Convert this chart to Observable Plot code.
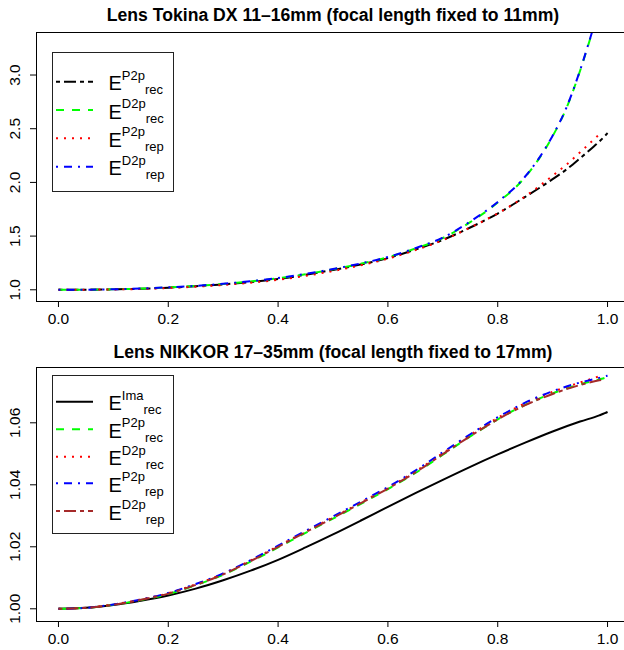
<!DOCTYPE html>
<html><head><meta charset="utf-8">
<script src="https://cdn.jsdelivr.net/npm/d3@7"></script>
<script src="https://cdn.jsdelivr.net/npm/@observablehq/plot@0.6"></script>
<style>
html,body{margin:0;padding:0;background:#fff;overflow:hidden;}
#wrap{width:624px;height:650px;overflow:hidden;position:relative;}
#wrap svg{display:block;max-width:none;}
</style></head><body><div id="wrap"></div>
<script>
const FONT = "'Liberation Sans', Arial, Helvetica, sans-serif";

// ---------- Panel 1: Tokina DX 11-16mm ----------
const title1 = "Lens Tokina DX 11–16mm (focal length fixed to 11mm)";
const x1 = [0,0.05,0.1,0.15,0.2,0.25,0.3,0.35,0.4,0.45,0.5,0.55,0.6,0.65,0.7,0.75,0.8,0.85,0.9,0.925,0.95,0.975,0.99,1.0];
const p2pRec1 = [1.000,1.001,1.004,1.010,1.020,1.033,1.050,1.072,1.100,1.140,1.185,1.235,1.295,1.375,1.465,1.580,1.710,1.865,2.030,2.120,2.225,2.335,2.405,2.460];
const d2pRec1 = [1.000,1.001,1.005,1.011,1.022,1.036,1.055,1.078,1.107,1.145,1.190,1.242,1.303,1.385,1.482,1.630,1.812,2.050,2.430,2.690,3.040,3.450,null,null];
const p2pRep1 = [1.000,1.001,1.003,1.008,1.017,1.029,1.045,1.066,1.093,1.130,1.175,1.228,1.290,1.370,1.462,1.580,1.712,1.870,2.062,2.165,2.280,2.400,2.470,null];
const d2pRep1 = [1.000,1.001,1.005,1.012,1.023,1.037,1.056,1.080,1.110,1.148,1.193,1.245,1.305,1.388,1.486,1.636,1.818,2.055,2.435,2.695,3.045,3.455,null,null];
const yTicks1 = [1.0,1.5,2.0,2.5,3.0];

// ---------- Panel 2: NIKKOR 17-35mm ----------
const title2 = "Lens NIKKOR 17–35mm (focal length fixed to 17mm)";
const x2 = [0,0.05,0.1,0.15,0.2,0.25,0.3,0.35,0.4,0.45,0.5,0.55,0.6,0.65,0.7,0.75,0.8,0.85,0.9,0.95,0.985,0.995,1.0];
const imaRec2 = [1.0000,1.0003,1.0012,1.0026,1.0043,1.0065,1.0092,1.0123,1.0158,1.0198,1.0240,1.0284,1.0329,1.0373,1.0416,1.0458,1.0498,1.0536,1.0572,1.0604,1.0624,1.0631,1.0635];
const p2pRec2 = [1.0000,1.0003,1.0013,1.0028,1.0048,1.0076,1.0110,1.0152,1.0198,1.0245,1.0291,1.0338,1.0386,1.0438,1.0497,1.0556,1.0611,1.0658,1.0695,1.0724,1.0740,1.0745,1.0748];
const d2pRec2 = [1.0000,1.0003,1.0014,1.0030,1.0050,1.0079,1.0113,1.0156,1.0202,1.0249,1.0295,1.0342,1.0390,1.0443,1.0502,1.0561,1.0616,1.0663,1.0700,1.0730,1.0750,null,null];
const p2pRep2 = [1.0000,1.0003,1.0014,1.0030,1.0051,1.0080,1.0114,1.0157,1.0204,1.0251,1.0298,1.0345,1.0393,1.0446,1.0505,1.0563,1.0618,1.0665,1.0702,1.0730,1.0745,1.0750,1.0752];
const d2pRep2 = [1.0000,1.0003,1.0013,1.0029,1.0049,1.0077,1.0111,1.0154,1.0200,1.0247,1.0293,1.0340,1.0388,1.0440,1.0499,1.0557,1.0611,1.0657,1.0693,1.0722,1.0737,1.0740,null];
const yTicks2 = [1.00,1.02,1.04,1.06];

const xTicks = [0,0.2,0.4,0.6,0.8,1.0];

// R line types at lwd 2
const DASH = {solid: null, dashed: "8,8", dotted: "2,6", dotdash: "2,6,8,6", twodash: "4,4,12,4"};

const series1 = [
  {ys: p2pRec1, color: "#000000", lty: "twodash", sup: "P2p", sub: "rec"},
  {ys: d2pRec1, color: "#00FF00", lty: "dashed",  sup: "D2p", sub: "rec"},
  {ys: p2pRep1, color: "#FF0000", lty: "dotted",  sup: "P2p", sub: "rep"},
  {ys: d2pRep1, color: "#0000FF", lty: "dotdash", sup: "D2p", sub: "rep"}
];
const series2 = [
  {ys: imaRec2, color: "#000000", lty: "solid",   sup: "Ima", sub: "rec"},
  {ys: p2pRec2, color: "#00FF00", lty: "dashed",  sup: "P2p", sub: "rec"},
  {ys: d2pRec2, color: "#FF0000", lty: "dotted",  sup: "D2p", sub: "rec"},
  {ys: p2pRep2, color: "#0000FF", lty: "dotdash", sup: "P2p", sub: "rep"},
  {ys: d2pRep2, color: "#A52A2A", lty: "twodash", sup: "D2p", sub: "rep"}
];

function panel(o) {
  const marks = [];
  for (const s of o.series) {
    const data = o.xs.map((x, i) => ({x, y: s.ys[i]})).filter(d => d.y != null);
    marks.push(Plot.line(data, {
      x: "x", y: "y", stroke: s.color, strokeWidth: 2,
      strokeDasharray: DASH[s.lty], strokeLinecap: "butt", strokeLinejoin: "round",
      curve: "monotone-x", clip: true
    }));
  }
  marks.push(
    Plot.frame({stroke: "#000", strokeWidth: 1}),
    Plot.axisX({ticks: xTicks, tickSize: 6, tickPadding: 5, fontSize: 15.5, tickFormat: d3.format(".1f"), label: null}),
    Plot.axisY({ticks: o.yTicks, tickSize: 6, tickFormat: () => "", label: null}),
    Plot.text(o.yTicks, {y: d => d, frameAnchor: "left", dx: -21, rotate: -90, text: o.yFmt,
      fontSize: 15.5, textAnchor: "middle", lineAnchor: "middle"}),
    Plot.text([o.title], {frameAnchor: "top", dy: o.titleDy, fontWeight: "bold", fontSize: 17.6, lineAnchor: "middle"})
  );
  const svg = Plot.plot({
    width: 629, height: o.height,
    marginLeft: 36, marginRight: 0, marginTop: o.marginTop, marginBottom: o.marginBottom,
    style: {fontFamily: FONT, background: "white", maxWidth: "none", color: "#000"},
    x: {domain: [-0.04, 1.04]},
    y: {domain: o.yDomain},
    marks
  });
  // legend (R-style box)
  const g = d3.select(svg).append("g").attr("font-family", FONT).attr("text-anchor", "start");
  g.append("rect").attr("x", 52.5).attr("y", o.legTop + 0.5).attr("width", 121).attr("height", o.legH)
    .attr("fill", "white").attr("stroke", "#222").attr("stroke-width", 1);
  o.series.forEach((s, i) => {
    const yc = o.rows[i];
    const ln = g.append("line").attr("x1", 56).attr("x2", 93).attr("y1", yc).attr("y2", yc)
      .attr("stroke", s.color).attr("stroke-width", 2).attr("stroke-linecap", "butt");
    if (DASH[s.lty]) ln.attr("stroke-dasharray", DASH[s.lty]);
    const t = g.append("text").attr("x", 108.5).attr("y", yc + 8.5).attr("fill", "#000").attr("text-anchor", "start");
    t.append("tspan").attr("font-size", 20).text("E");
    t.append("tspan").attr("font-size", 13).attr("dy", -10.7).text(s.sup);
    t.append("tspan").attr("font-size", 13).attr("dy", 14.7).text(s.sub);
  });
  return svg;
}

const wrap = document.getElementById("wrap");
wrap.appendChild(panel({
  title: title1, titleDy: -17, height: 327, marginTop: 32, marginBottom: 26,
  yDomain: [0.891, 3.396], yTicks: yTicks1, yFmt: d3.format(".1f"),
  xs: x1, series: series1,
  legTop: 52, legH: 139, rows: [81.7, 110, 138.3, 166.7]
}));
wrap.appendChild(panel({
  title: title2, titleDy: -15, height: 323, marginTop: 40, marginBottom: 29,
  yDomain: [0.9959, 1.07784], yTicks: yTicks2, yFmt: d3.format(".2f"),
  xs: x2, series: series2,
  legTop: 48, legH: 158, rows: [74.7, 102.3, 129.7, 156.3, 184]
}));
</script></body></html>
